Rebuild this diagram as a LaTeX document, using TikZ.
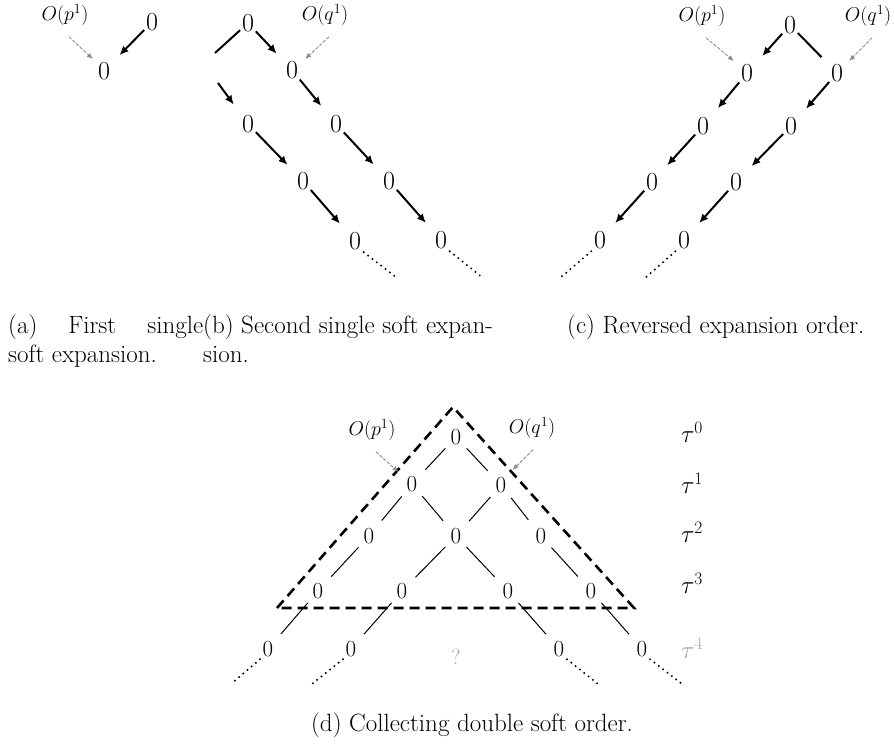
\RequirePackage{fix-cm}
\documentclass[tikz,border=0pt]{standalone}
\usepackage{fontspec}
\usepackage{amsmath}
\usetikzlibrary{arrows.meta}

\begin{document}
\begin{tikzpicture}[x=1pt,y=-1pt,
			zero/.style={inner sep=1pt, font=\fontsize{26}{26}\selectfont},
			dzero/.style={inner sep=1pt, font=\fontsize{23}{23}\selectfont},
			lab/.style={inner sep=1pt, font=\fontsize{20}{20}\selectfont},
			tlab/.style={inner sep=1pt, font=\fontsize{25}{25}\selectfont},
			arr/.style={-{Latex[length=9pt,width=8pt]}, line width=2pt, shorten <=1pt, shorten >=12pt},
			bline/.style={line width=2pt, shorten <=1pt},
			hint/.style={-{Latex[length=6pt,width=5pt]}, draw=black!45, fill=black!45, line width=0.9pt, dash pattern=on 3pt off 2pt},
			dline/.style={line width=1pt, shorten <=6pt, shorten >=10pt},
			dotline/.style={line width=2.2pt, dash pattern=on 0pt off 5.5pt, line cap=round, shorten <=2pt},
			tridash/.style={line width=2.6pt, dash pattern=on 10pt off 6pt},
			capt/.style={inner sep=0pt, anchor=base west, font=\fontsize{25}{30}\selectfont}
			]
			\useasboundingbox (0,0) rectangle (895,751);
			%%%%%%%%%%%%%%% (a)
			\node[lab] (pla) at (65,15) {$O(p^1)$};
			\node[zero] (a1) at (152,22) {0};
			\node[zero] (a0) at (104,71) {0};
			\draw[arr] (a1) -- (a0);
			\draw[hint] ([shift={(4,10)}]pla.south) -- ([shift={(-4,-2)}]a0.north west);
			%%%%%%%%%%%%%%% (b)
			\node[zero] (b0) at (248,23) {0};
			\node[zero] (b1) at (292,70) {0};
			\node[zero] (b2l) at (248,124) {0};
			\node[zero] (b2r) at (336,124) {0};
			\node[zero] (b3l) at (303,181) {0};
			\node[zero] (b3r) at (389,181) {0};
			\node[zero] (b4l) at (355,241) {0};
			\node[zero] (b4r) at (441,240) {0};
			\node[lab] (qlb) at (325,15) {$O(q^1)$};
			\coordinate (bx) at (215,53);
			\coordinate (by) at (218,83);
			\coordinate (bz1) at (397,278);
			\coordinate (bz2) at (483,278);
			\draw[bline] (b0) -- (bx);
			\draw[arr] (b0) -- (b1);
			\draw[arr] (b1) -- (b2r);
			\draw[arr] (b2r) -- (b3r);
			\draw[arr] (b3r) -- (b4r);
			\draw[arr, shorten <=0pt] (by) -- (b2l);
			\draw[arr] (b2l) -- (b3l);
			\draw[arr] (b3l) -- (b4l);
			\draw[dotline] (b4l.south east) -- (bz1);
			\draw[dotline] (b4r.south east) -- (bz2);
			\draw[hint] ([shift={(4,10)}]qlb.south) -- ([shift={(6,-1)}]b1.north east);
			%%%%%%%%%%%%%%% (c)
			\node[zero] (c0) at (790,25) {0};
			\node[zero] (c1l) at (747,73) {0};
			\node[zero] (c1r) at (837,73) {0};
			\node[zero] (c2l) at (703,126) {0};
			\node[zero] (c2r) at (791,126) {0};
			\node[zero] (c3l) at (652,182) {0};
			\node[zero] (c3r) at (736,182) {0};
			\node[zero] (c4l) at (600,240) {0};
			\node[zero] (c4r) at (684,240) {0};
			\node[lab] (plc) at (702,16) {$O(p^1)$};
			\node[lab] (qlc) at (868,16) {$O(q^1)$};
			\coordinate (cz1) at (560,278);
			\coordinate (cz2) at (645,278);
			\draw[arr] (c0) -- (c1l);
			\draw[bline, shorten >=12pt] (c0) -- (c1r);
			\draw[arr] (c1l) -- (c2l);
			\draw[arr] (c1r) -- (c2r);
			\draw[arr] (c2l) -- (c3l);
			\draw[arr] (c2r) -- (c3r);
			\draw[arr] (c3l) -- (c4l);
			\draw[arr] (c3r) -- (c4r);
			\draw[dotline] (c4l.south west) -- (cz1);
			\draw[dotline] (c4r.south west) -- (cz2);
			\draw[hint] ([shift={(4,10)}]plc.south) -- ([shift={(-6,-2)}]c1l.north west);
			\draw[hint] ([shift={(4,10)}]qlc.south) -- ([shift={(5,-2)}]c1r.north east);
			%%%%%%%%%%%%%%% (d)
			\coordinate (tA) at (453,407);
			\coordinate (tL) at (277,608);
			\coordinate (tR) at (634,608);
			\node[dzero] (d0) at (456,437) {0};
			\node[dzero] (d1l) at (412,484) {0};
			\node[dzero] (d1r) at (501,485) {0};
			\node[dzero] (d2l) at (369,536) {0};
			\node[dzero] (d2m) at (456,536) {0};
			\node[dzero] (d2r) at (541,536) {0};
			\node[dzero] (d3a) at (318,591) {0};
			\node[dzero] (d3b) at (402,591) {0};
			\node[dzero] (d3c) at (508,591) {0};
			\node[dzero] (d3d) at (591,591) {0};
			\node[dzero] (d4a) at (268,649) {0};
			\node[dzero] (d4b) at (351,649) {0};
			\node[dzero] (d4c) at (559,649) {0};
			\node[dzero] (d4d) at (642,649) {0};
			\node[inner sep=1pt, text=black!35, font=\fontsize{22}{22}\selectfont] (qm) at (456,657) {?};
			\node[lab] (pld) at (372,430) {$O(p^1)$};
			\node[lab] (qld) at (532,428) {$O(q^1)$};
			\node[tlab] (t0) at (692,432) {$\tau^0$};
			\node[tlab] (t1) at (692,483) {$\tau^1$};
			\node[tlab] (t2) at (692,532) {$\tau^2$};
			\node[tlab] (t3) at (692,583) {$\tau^3$};
			\node[tlab, text=black!35] (t4) at (692,648) {$\tau^4$};
			\draw[tridash] (tL) -- (tA) -- (tR) -- cycle;
			\draw[dline] (d0) -- (d1l);
			\draw[dline] (d0) -- (d1r);
			\draw[dline] (d1l) -- (d2l);
			\draw[dline] (d1l) -- (d2m);
			\draw[dline] (d1r) -- (d2m);
			\draw[dline] (d1r) -- (d2r);
			\draw[dline] (d2l) -- (d3a);
			\draw[dline] (d2m) -- (d3b);
			\draw[dline] (d2m) -- (d3c);
			\draw[dline] (d2r) -- (d3d);
			\draw[dline] (d3a) -- (d4a);
			\draw[dline] (d3b) -- (d4b);
			\draw[dline] (d3c) -- (d4c);
			\draw[dline] (d3d) -- (d4d);
			\coordinate (dz1) at (231,684);
			\coordinate (dz2) at (312,684);
			\coordinate (dz3) at (598,684);
			\coordinate (dz4) at (682,684);
			\draw[dotline] (d4a.south west) -- (dz1);
			\draw[dotline] (d4b.south west) -- (dz2);
			\draw[dotline] (d4c.south east) -- (dz3);
			\draw[dotline] (d4d.south east) -- (dz4);
			\draw[hint] ([shift={(4,10)}]pld.south) -- ([shift={(-7,-3)}]d1l.north west);
			\draw[hint] ([shift={(1,10)}]qld.south) -- ([shift={(5,-6)}]d1r.north east);
			%%%%%%%%%%%%%%% captions
			\node[capt] (capa1) at (8,334) {\hbox to 195pt{(a)\hfill First\hfill single}};
			\node[capt] (capa2) at (8,363) {soft expansion.};
			\node[capt] (capb1) at (203,334) {(b) Second single soft expan-};
			\node[capt] (capb2) at (203,363) {sion.};
			\node[capt] (capc) at (567,334) {(c) Reversed expansion order.};
			\node[capt, anchor=base] (capd) at (472,731) {(d) Collecting double soft order.};
		\end{tikzpicture}
\end{document}
